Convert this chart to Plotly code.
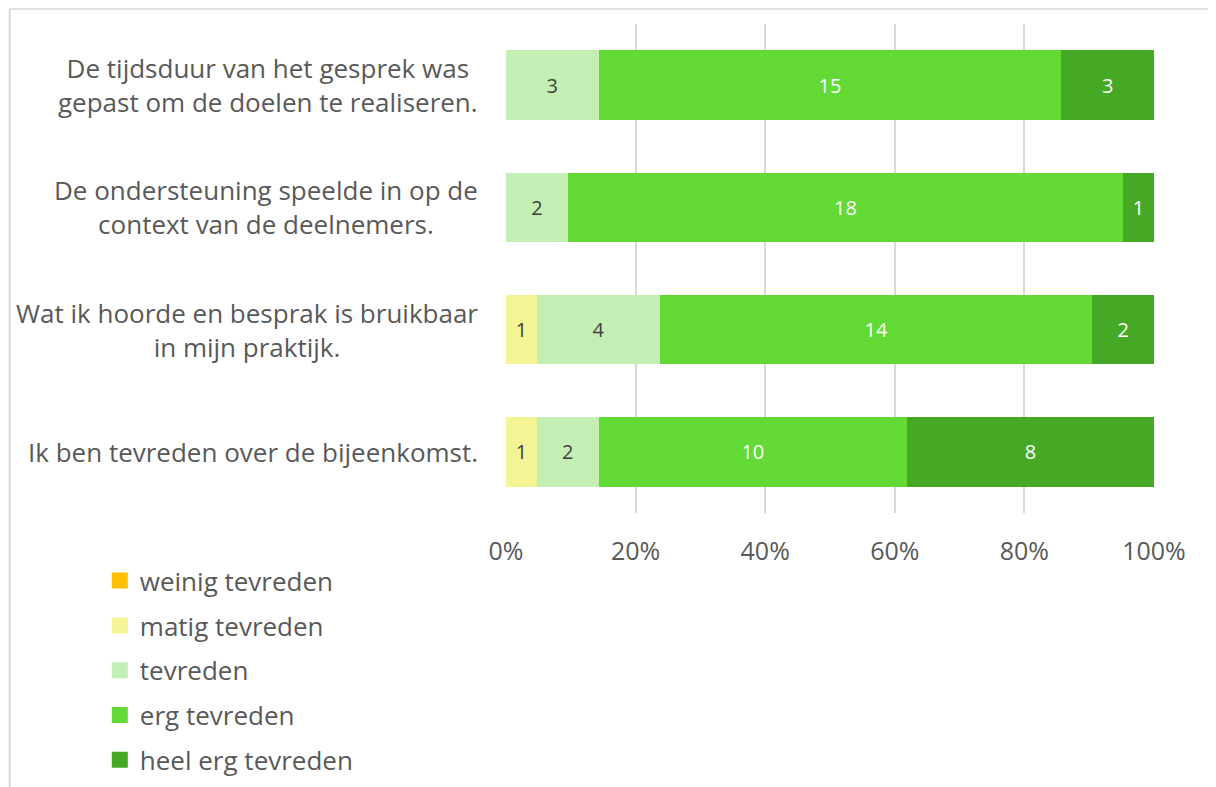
import plotly.graph_objects as go

statements = [
    "De tijdsduur van het gesprek was<br>gepast om de doelen te realiseren.",
    "De ondersteuning speelde in op de<br>context van de deelnemers.",
    "Wat ik hoorde en besprak is bruikbaar<br>in mijn praktijk.",
    "Ik ben tevreden over de bijeenkomst.",
]
levels = ["weinig tevreden", "matig tevreden", "tevreden", "erg tevreden", "heel erg tevreden"]
weinig = [0, 0, 0, 0]
matig = [0, 0, 1, 1]
tevreden = [3, 2, 4, 2]
erg = [15, 18, 14, 10]
heel_erg = [3, 1, 2, 8]
tick_vals = [0, 20, 40, 60, 80, 100]
tick_text = ["0%", "20%", "40%", "60%", "80%", "100%"]

colors = ["#FFC000", "#F4F494", "#C3EFB4", "#62D935", "#46A925"]
text_colors = ["#404040", "#404040", "#404040", "#FFFFFF", "#FFFFFF"]
FONT = "Open Sans"
GREY = "#595959"

fig = go.Figure()
for name, vals, col, tcol in zip(levels, [weinig, matig, tevreden, erg, heel_erg], colors, text_colors):
    fig.add_trace(go.Bar(
        y=statements, x=vals, name=name, orientation="h",
        marker=dict(color=col, line=dict(width=0)),
        text=[str(v) if v else "" for v in vals],
        textposition="inside", insidetextanchor="middle",
        textfont=dict(family=FONT, size=20, color=tcol),
        showlegend=False, legendgroup=name, hoverinfo="x+name",
    ))
    # legend entry with a 16px square swatch
    fig.add_trace(go.Scatter(
        x=[None], y=[None], mode="markers", name=name, legendgroup=name,
        marker=dict(symbol="square", size=16, color=col),
    ))

# category labels, lines centred like the original
for s in statements:
    fig.add_annotation(x=0, y=s, xref="paper", yref="y", text=s, showarrow=False,
                       xanchor="right", align="center", xshift=-26,
                       font=dict(family=FONT, size=26, color=GREY))

# outer frame (only top and left edges visible)
fig.add_shape(type="line", xref="paper", yref="paper", x0=-0.766, x1=1.2, y0=1.0307, y1=1.0307,
              line=dict(color="#D9D9D9", width=1.5))
fig.add_shape(type="line", xref="paper", yref="paper", x0=-0.766, x1=-0.766, y0=1.0307, y1=-0.6,
              line=dict(color="#D9D9D9", width=2))

fig.update_layout(
    width=1208, height=779,
    margin=dict(l=498, r=62, t=16, b=274),
    barmode="stack", barnorm="percent", bargap=0.43,
    plot_bgcolor="white", paper_bgcolor="white",
    font=dict(family=FONT, color=GREY),
    xaxis=dict(range=[0, 100], tickvals=tick_vals, ticktext=tick_text, showgrid=True,
               gridcolor="#D9D9D9", gridwidth=2, zeroline=False,
               tickfont=dict(family=FONT, size=25, color=GREY),
               ticklabelstandoff=21, fixedrange=True),
    yaxis=dict(autorange="reversed", showticklabels=False, showgrid=False, zeroline=False),
    showlegend=True,
    legend=dict(xref="container", yref="container", x=0.076, y=0.295, xanchor="left", yanchor="top",
                orientation="v", traceorder="grouped", tracegroupgap=8, itemsizing="trace",
                font=dict(family=FONT, size=26, color=GREY), itemwidth=30),
)

fig.write_html("out.html")
